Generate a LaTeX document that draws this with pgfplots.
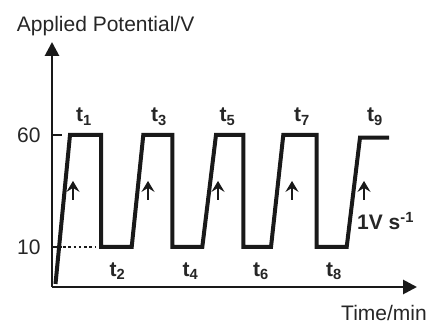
\documentclass[border=0pt]{standalone}
\usepackage{fontspec}
\setmainfont{Liberation Sans}
\usepackage{pgfplots}
\pgfplotsset{compat=1.18}
\usetikzlibrary{arrows.meta}
\tikzset{upar/.style={line width=2.4pt, black!90, -{Stealth[length=11pt,width=13pt,inset=4pt]}}}
\begin{document}
\begin{tikzpicture}[font=\fontsize{21}{25}\selectfont]
\begin{axis}[
  scale only axis, width=365pt, height=245pt,
  xmin=0, xmax=36.5, ymin=-7.86, ymax=101.5,
  axis lines=left,
  axis line style={line width=2.8pt, color=black!90},
  x axis line style={-{Triangle[length=14pt,width=14pt]}},
  y axis line style={-{Triangle[length=14pt,width=14pt]}},
  xtick=\empty, ytick={10,60}, yticklabels={10,60},
  tick align=inside, major tick length=10pt,
  ytick style={line width=2pt, black!90},
  yticklabel style={font=\fontsize{21}{25}\selectfont, xshift=-8pt, text=black!85},
  clip=false,
]
\addplot[line width=4pt, black!90, line join=miter] coordinates {
  (0.35,-6.5) (1.8,60) (4.9,60) (4.9,10) (7.97,10) (9.13,60) (12.03,60)
  (12.03,10) (15.03,10) (16.4,60) (19.13,60) (19.13,10) (21.9,10)
  (23.13,60) (26.47,60) (26.47,10) (29.47,10) (30.8,58.8) (33.7,58.8)
};
\draw[line width=2pt, black!90, dash pattern=on 2.6pt off 2.7pt] (axis cs:1.1,10) -- (axis cs:4.3,10);
\draw[upar] (axis cs:2.1,31) -- (axis cs:2.1,39.5);
\draw[upar] (axis cs:9.6,31) -- (axis cs:9.6,39.5);
\draw[upar] (axis cs:16.6,31) -- (axis cs:16.6,39.5);
\draw[upar] (axis cs:24.0,31) -- (axis cs:24.0,39.5);
\draw[upar] (axis cs:31.2,31) -- (axis cs:31.2,39.5);
\node[anchor=base, text=black!85] at (axis cs:3.2,65.8) {\textbf{t\textsubscript{1}}};
\node[anchor=base, text=black!85] at (axis cs:10.7,65.8) {\textbf{t\textsubscript{3}}};
\node[anchor=base, text=black!85] at (axis cs:17.55,65.8) {\textbf{t\textsubscript{5}}};
\node[anchor=base, text=black!85] at (axis cs:25.0,65.8) {\textbf{t\textsubscript{7}}};
\node[anchor=base, text=black!85] at (axis cs:32.3,65.8) {\textbf{t\textsubscript{9}}};
\node[anchor=base, text=black!85] at (axis cs:6.55,-2.95) {\textbf{t\textsubscript{2}}};
\node[anchor=base, text=black!85] at (axis cs:13.85,-2.95) {\textbf{t\textsubscript{4}}};
\node[anchor=base, text=black!85] at (axis cs:20.9,-2.95) {\textbf{t\textsubscript{6}}};
\node[anchor=base, text=black!85] at (axis cs:28.2,-2.95) {\textbf{t\textsubscript{8}}};
\node[anchor=base west, inner sep=0pt, text=black!85] at (axis cs:30.5,17.6) {\textbf{1V s\textsuperscript{-1}}};
\node[anchor=base west, inner sep=0pt, text=black!85] at (axis cs:28.9,-22.6) {Time/min};
\node[anchor=base west, inner sep=0pt, text=black!85] at (axis cs:-3.53,106.1) {Applied Potential/V};
\end{axis}
\pgfresetboundingbox
\path[use as bounding box] ([shift={(-52pt,-37pt)}]current axis.south west) rectangle ([shift={(11pt,42pt)}]current axis.north east);
\end{tikzpicture}
\end{document}
